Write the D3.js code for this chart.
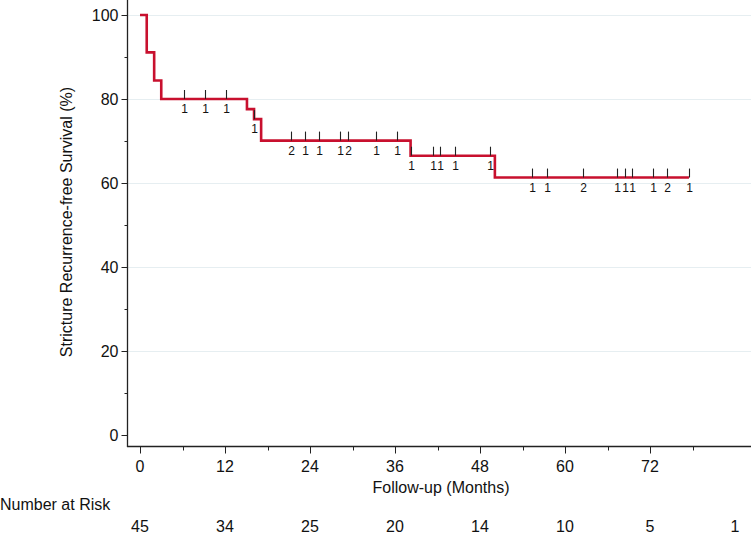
<!DOCTYPE html>
<html><head><meta charset="utf-8">
<script src="https://cdn.jsdelivr.net/npm/d3@7"></script>
<style>body{margin:0;background:#fff}svg{display:block}text{font-family:"Liberation Sans",Arial,sans-serif;fill:#111}</style>
</head><body>
<script>
// Kaplan-Meier step data
const stepTimes = [0, 0.95, 2, 3, 15.1, 16.1, 17.1, 38.2, 50.1];
const stepSurv  = [100, 91.1, 84.4, 80, 77.6, 75.2, 70.1, 66.5, 61.3];
const endTime = 77.5;
// Censoring marks: times and counts
const censorTimes  = [6.2, 9.2, 12.2, 16.1, 21.3, 23.3, 25.3, 28.2, 29.3, 33.3, 36.3, 38.2, 41.3, 42.4, 44.4, 49.4, 55.4, 57.4, 62.5, 67.4, 68.4, 69.4, 72.4, 74.4, 77.5];
const censorCounts = [1, 1, 1, 1, 2, 1, 1, 1, 2, 1, 1, 1, 1, 1, 1, 1, 1, 1, 2, 1, 1, 1, 1, 2, 1];
// Axes
const xTicks = [0, 12, 24, 36, 48, 60, 72];
const xMinor = [6, 18, 30, 42, 54, 66, 78];
const yTicks = [0, 20, 40, 60, 80, 100];
const yMinor = [10, 30, 50, 70, 90];
// Number at risk
const riskTimes = [0, 12, 24, 36, 48, 60, 72, 84];
const riskCounts = [45, 34, 25, 20, 14, 10, 5, 1];

const W = 751, H = 537;
const svg = d3.select("body").append("svg").attr("width", W).attr("height", H);
const x = d3.scaleLinear().domain([0, 84]).range([140, 735]);
const y = d3.scaleLinear().domain([0, 100]).range([435, 15]);
const axX0 = 127.5, axY0 = 446.5;
const FS = 16;

// gridlines
svg.append("g").selectAll("line").data(yTicks.filter(d => d > 0)).join("line")
  .attr("x1", axX0).attr("x2", W).attr("y1", d => Math.round(y(d)) + 0.5).attr("y2", d => Math.round(y(d)) + 0.5)
  .attr("stroke", "#e6eef1").attr("stroke-width", 1);

// y axis
const gy = svg.append("g");
gy.append("line").attr("x1", axX0).attr("x2", axX0).attr("y1", 0).attr("y2", axY0).attr("stroke", "#222").attr("stroke-width", 1.3);
gy.selectAll("line.maj").data(yTicks).join("line").attr("class", "maj")
  .attr("x1", axX0 - 6).attr("x2", axX0).attr("y1", d => Math.round(y(d)) + 0.5).attr("y2", d => Math.round(y(d)) + 0.5).attr("stroke", "#222");
gy.selectAll("line.min").data(yMinor).join("line").attr("class", "min")
  .attr("x1", axX0 - 3).attr("x2", axX0).attr("y1", d => Math.round(y(d)) + 0.5).attr("y2", d => Math.round(y(d)) + 0.5).attr("stroke", "#222");
gy.selectAll("text").data(yTicks).join("text")
  .attr("x", axX0 - 9).attr("y", d => y(d)).attr("dy", "0.36em").attr("text-anchor", "end")
  .attr("font-size", FS).text(d => d);
svg.append("text").attr("transform", "translate(72,222) rotate(-90)").attr("text-anchor", "middle")
  .attr("font-size", FS).text("Stricture Recurrence-free Survival (%)");

// x axis
const gx = svg.append("g");
gx.append("line").attr("x1", axX0 - 0.6).attr("x2", W).attr("y1", axY0).attr("y2", axY0).attr("stroke", "#222").attr("stroke-width", 1.3);
gx.selectAll("line.maj").data(xTicks).join("line").attr("class", "maj")
  .attr("x1", d => Math.round(x(d)) + 0.5).attr("x2", d => Math.round(x(d)) + 0.5).attr("y1", axY0).attr("y2", axY0 + 7).attr("stroke", "#222");
gx.selectAll("line.min").data(xMinor).join("line").attr("class", "min")
  .attr("x1", d => Math.round(x(d)) + 0.5).attr("x2", d => Math.round(x(d)) + 0.5).attr("y1", axY0).attr("y2", axY0 + 4).attr("stroke", "#222");
gx.selectAll("text").data(xTicks).join("text")
  .attr("x", d => x(d)).attr("y", 472).attr("text-anchor", "middle").attr("font-size", FS).text(d => d);
svg.append("text").attr("x", 441).attr("y", 493).attr("text-anchor", "middle").attr("font-size", FS).text("Follow-up (Months)");

// KM curve
const pts = stepTimes.map((t, i) => [t, stepSurv[i]]);
pts.push([endTime, stepSurv[stepSurv.length - 1]]);
const line = d3.line().x(d => x(d[0])).y(d => y(d[1])).curve(d3.curveStepAfter);
svg.append("path").attr("d", line(pts)).attr("fill", "none").attr("stroke", "#c8102e").attr("stroke-width", 2.6);

// censor marks
function survAt(t) {
  let s = stepSurv[0];
  for (let i = 0; i < stepTimes.length; i++) if (stepTimes[i] <= t + 0.15) s = stepSurv[i];
  return s;
}
const cg = svg.append("g");
censorTimes.forEach((t, i) => {
  const cx = Math.round(x(t)) + 0.5, cy = y(survAt(t));
  cg.append("line").attr("x1", cx).attr("x2", cx).attr("y1", cy - 9).attr("y2", cy).attr("stroke", "#222").attr("stroke-width", 1.1);
  cg.append("text").attr("x", cx).attr("y", cy + 14).attr("text-anchor", "middle").attr("font-size", 12).text(censorCounts[i]);
});

// number at risk
svg.append("text").attr("x", 0).attr("y", 510).attr("font-size", FS).text("Number at Risk");
svg.append("g").selectAll("text").data(riskTimes).join("text")
  .attr("x", d => x(d)).attr("y", 532).attr("text-anchor", "middle").attr("font-size", FS)
  .text((d, i) => riskCounts[i]);
</script>
</body></html>
